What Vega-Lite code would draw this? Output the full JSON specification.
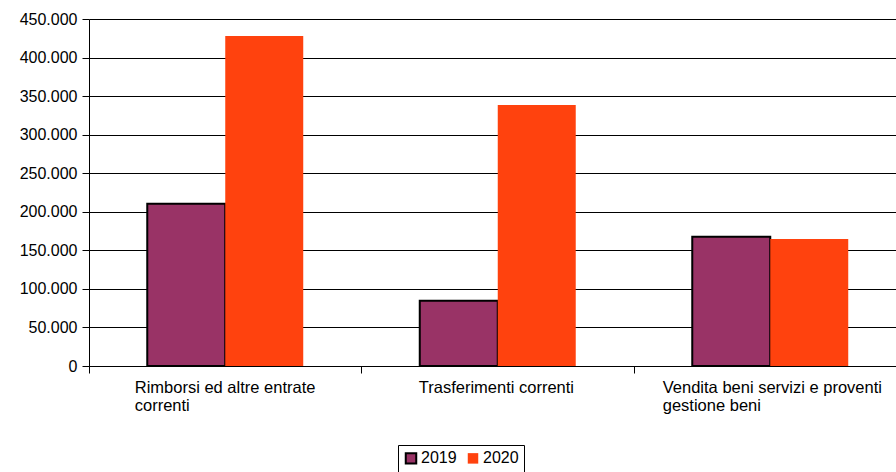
{
  "$schema": "https://vega.github.io/schema/vega-lite/v6.json",
  "autosize": "none",
  "padding": {"left": 89, "top": 19, "right": 0, "bottom": 106},
  "width": 807,
  "height": 347,
  "config": {
    "view": {"stroke": null},
    "font": "Liberation Sans",
    "locale": {"number": {"decimal": ",", "thousands": ".", "grouping": [3], "currency": ["€", ""]}}
  },
  "data": {
    "values": [
      {"cat": "Rimborsi ed altre entrate correnti", "year": "2019", "value": 210400},
      {"cat": "Rimborsi ed altre entrate correnti", "year": "2020", "value": 428000},
      {"cat": "Trasferimenti correnti", "year": "2019", "value": 84700},
      {"cat": "Trasferimenti correnti", "year": "2020", "value": 338500},
      {"cat": "Vendita beni servizi e proventi gestione beni", "year": "2019", "value": 167700},
      {"cat": "Vendita beni servizi e proventi gestione beni", "year": "2020", "value": 164700}
    ]
  },
  "mark": {"type": "bar", "strokeWidth": 2},
  "encoding": {
    "x": {
      "field": "cat",
      "type": "nominal",
      "sort": null,
      "scale": {"range": [0, 817.5], "paddingInner": 0, "paddingOuter": 0},
      "axis": {
        "title": null,
        "bandPosition": 0,
        "domainColor": "black",
        "tickColor": "black",
        "tickSize": 7,
        "labelAngle": 0,
        "labelAlign": "left",
        "labelBaseline": "top",
        "labelFontSize": 16.5,
        "labelColor": "black",
        "labelPadding": 6,
        "labelLineHeight": 18,
        "labelLimit": 0,
        "labelOffset": {"condition": [
          {"test": "datum.value === 'Rimborsi ed altre entrate correnti'", "value": -90.5},
          {"test": "datum.value === 'Trasferimenti correnti'", "value": -79}
        ], "value": -107.5},
        "labelExpr": "datum.value === 'Rimborsi ed altre entrate correnti' ? ['Rimborsi ed altre entrate', 'correnti'] : datum.value === 'Vendita beni servizi e proventi gestione beni' ? ['Vendita beni servizi e proventi', 'gestione beni'] : datum.value"
      }
    },
    "xOffset": {
      "field": "year",
      "type": "nominal",
      "scale": {"paddingInner": 0, "paddingOuter": 0.747}
    },
    "y": {
      "field": "value",
      "type": "quantitative",
      "scale": {"domain": [0, 450000], "nice": false},
      "axis": {
        "title": null,
        "values": [0, 50000, 100000, 150000, 200000, 250000, 300000, 350000, 400000, 450000],
        "format": ",d",
        "domainColor": "black",
        "tickColor": "black",
        "tickSize": 7,
        "gridColor": "black",
        "gridWidth": 1,
        "gridOpacity": 1,
        "labelFontSize": 16,
        "labelColor": "black",
        "labelPadding": 5
      }
    },
    "fill": {
      "field": "year",
      "type": "nominal",
      "scale": {"domain": ["2019", "2020"], "range": ["#993366", "#FF420E"]},
      "legend": {
        "title": null,
        "orient": "none",
        "direction": "horizontal",
        "legendX": 309,
        "legendY": 426,
        "strokeColor": "black",
        "padding": 5,
        "symbolType": "square",
        "symbolSize": 110,
        "symbolStrokeWidth": 2,
        "symbolOpacity": 1,
        "labelFontSize": 16,
        "labelColor": "black",
        "labelOffset": 2,
        "columnPadding": 6
      }
    },
    "stroke": {
      "field": "year",
      "type": "nominal",
      "scale": {"domain": ["2019", "2020"], "range": ["black", "transparent"]},
      "legend": {
        "title": null,
        "orient": "none",
        "direction": "horizontal",
        "legendX": 309,
        "legendY": 426
      }
    }
  }
}
